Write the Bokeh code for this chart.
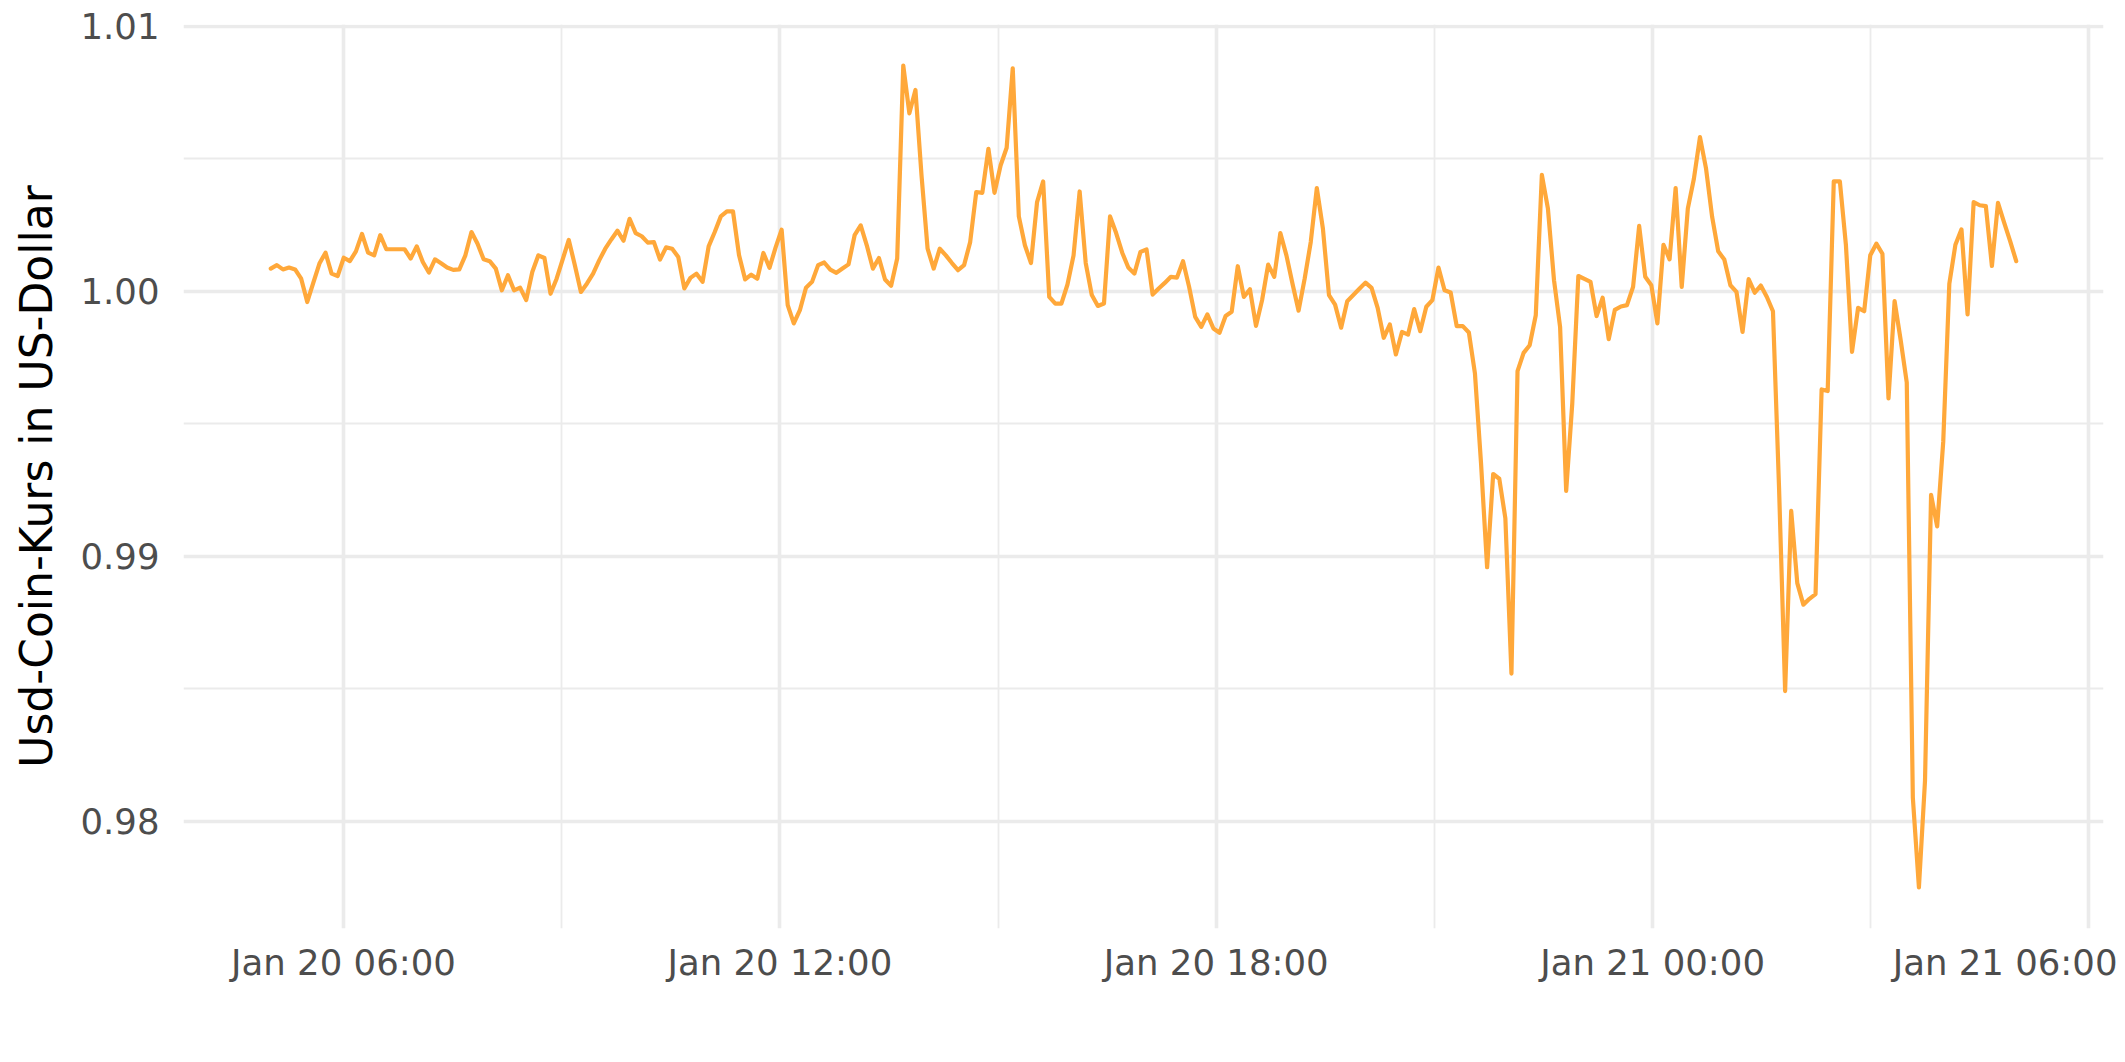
import pandas as pd
from bokeh.plotting import figure
from bokeh.models import (FixedTicker, DatetimeTickFormatter, PrintfTickFormatter,
                          Range1d, ColumnDataSource)
from bokeh.embed import file_html
from bokeh.resources import INLINE

# ---------------- data ----------------
start_time = "2025-01-20 05:00"
end_time = "2025-01-21 05:00"

usdc_price = [
    1.00086, 1.00099, 1.00083, 1.00090, 1.00083, 1.00048, 0.99960, 1.00033, 1.00105, 1.00146,
    1.00067, 1.00058, 1.00127, 1.00114, 1.00151, 1.00217, 1.00146, 1.00136, 1.00212, 1.00159,
    1.00159, 1.00159, 1.00159, 1.00124, 1.00170, 1.00111, 1.00071, 1.00121, 1.00106, 1.00090,
    1.00081, 1.00083, 1.00136, 1.00224, 1.00180, 1.00121, 1.00114, 1.00086, 1.00004, 1.00061,
    1.00004, 1.00014, 0.99967, 1.00073, 1.00136, 1.00126, 0.99991, 1.00048, 1.00121, 1.00194,
    1.00099, 0.99998, 1.00030, 1.00067, 1.00117, 1.00161, 1.00196, 1.00229, 1.00191, 1.00274,
    1.00220, 1.00208, 1.00184, 1.00186, 1.00120, 1.00166, 1.00161, 1.00130, 1.00011, 1.00051,
    1.00067, 1.00036, 1.00170, 1.00224, 1.00283, 1.00302, 1.00302, 1.00136, 1.00045, 1.00063,
    1.00048, 1.00145, 1.00089, 1.00165, 1.00233, 0.99948, 0.99879, 0.99929, 1.00014, 1.00036,
    1.00099, 1.00109, 1.00082, 1.00070, 1.00086, 1.00102, 1.00212, 1.00249, 1.00174, 1.00086,
    1.00126, 1.00045, 1.00021, 1.00124, 1.00852, 1.00672, 1.00760, 1.00438, 1.00161, 1.00086,
    1.00161, 1.00136, 1.00107, 1.00080, 1.00099, 1.00186, 1.00375, 1.00372, 1.00538, 1.00372,
    1.00475, 1.00542, 1.00842, 1.00283, 1.00174, 1.00107, 1.00337, 1.00415, 0.99979, 0.99954,
    0.99954, 1.00026, 1.00136, 1.00377, 1.00107, 0.99986, 0.99945, 0.99954, 1.00283, 1.00220,
    1.00146, 1.00090, 1.00067, 1.00149, 1.00158, 0.99988, 1.00011, 1.00032, 1.00055, 1.00052,
    1.00114, 1.00017, 0.99904, 0.99866, 0.99913, 0.99860, 0.99844, 0.99907, 0.99923, 1.00095,
    0.99979, 1.00008, 0.99870, 0.99967, 1.00101, 1.00055, 1.00220, 1.00136, 1.00029, 0.99927,
    1.00048, 1.00186, 1.00390, 1.00237, 0.99986, 0.99950, 0.99863, 0.99963, 0.99986, 1.00010,
    1.00033, 1.00013, 0.99938, 0.99825, 0.99875, 0.99762, 0.99847, 0.99837, 0.99933, 0.99850,
    0.99942, 0.99967, 1.00090, 1.00004, 0.99996, 0.99869, 0.99869, 0.99845, 0.99690, 0.99351,
    0.98959, 0.99311, 0.99293, 0.99144, 0.98558, 0.99699, 0.99768, 0.99797, 0.99910, 1.00440,
    1.00312, 1.00042, 0.99866, 0.99247, 0.99577, 1.00058, 1.00047, 1.00036, 0.99907, 0.99976,
    0.99820, 0.99930, 0.99943, 0.99948, 1.00017, 1.00247, 1.00055, 1.00023, 0.99879, 1.00176,
    1.00121, 1.00390, 1.00017, 1.00312, 1.00425, 1.00582, 1.00463, 1.00281, 1.00151, 1.00120,
    1.00023, 0.99998, 0.99847, 1.00046, 0.99995, 1.00022, 0.99979, 0.99925, 0.99260, 0.98492,
    0.99172, 0.98899, 0.98818, 0.98840, 0.98858, 0.99630, 0.99624, 1.00415, 1.00415, 1.00174,
    0.99772, 0.99938, 0.99925, 1.00136, 1.00180, 1.00142, 0.99596, 0.99963, 0.99816, 0.99656,
    0.98090, 0.97751, 0.98153, 0.99232, 0.99113, 0.99433, 1.00029, 1.00176, 1.00234, 0.99913,
    1.00337, 1.00325, 1.00322, 1.00096, 1.00334, 1.00260, 1.00190, 1.00114,
]

x_major_ticks = ["2025-01-20 06:00", "2025-01-20 12:00", "2025-01-20 18:00",
                 "2025-01-21 00:00", "2025-01-21 06:00"]
x_minor_ticks = ["2025-01-20 09:00", "2025-01-20 15:00", "2025-01-20 21:00",
                 "2025-01-21 03:00"]
y_major_ticks = [0.98, 0.99, 1.00, 1.01]
y_minor_ticks = [0.985, 0.995, 1.005]

y_title = "Usd-Coin-Kurs in US-Dollar"

# ---------------- build ----------------
times = pd.date_range(start_time, end_time, periods=len(usdc_price))
t_ms = [t.value / 1e6 for t in times]
src = ColumnDataSource(dict(t=t_ms, v=usdc_price))

def ms(s):
    return pd.Timestamp(s).value / 1e6

span_t = t_ms[-1] - t_ms[0]
vmin, vmax = min(usdc_price), max(usdc_price)
span_v = vmax - vmin

p = figure(width=2117, height=1054, x_axis_type="datetime",
           output_backend="svg", toolbar_location=None,
           x_range=Range1d(t_ms[0] - 0.05 * span_t, t_ms[-1] + 0.05 * span_t),
           y_range=Range1d(vmin - 0.05 * span_v, vmax + 0.05 * span_v),
           min_border_left=183, min_border_right=14,
           min_border_top=24, min_border_bottom=126)
p.outline_line_color = None
p.background_fill_color = "white"
p.border_fill_color = "white"

grid_col = "#EBEBEB"
p.xaxis.ticker = FixedTicker(ticks=[ms(s) for s in x_major_ticks],
                             minor_ticks=[ms(s) for s in x_minor_ticks])
p.yaxis.ticker = FixedTicker(ticks=y_major_ticks, minor_ticks=y_minor_ticks)
fmt = "%b %d %H:%M"
p.xaxis.formatter = DatetimeTickFormatter(
    milliseconds=fmt, seconds=fmt, minsec=fmt, minutes=fmt, hourmin=fmt,
    hours=fmt, days=fmt, months=fmt, years=fmt)
p.yaxis.formatter = PrintfTickFormatter(format="%.2f")

for g in (p.xgrid, p.ygrid):
    g.grid_line_color = grid_col
    g.grid_line_width = 3.6
    g.minor_grid_line_color = grid_col
    g.minor_grid_line_width = 1.8

for ax in (p.xaxis, p.yaxis):
    ax.axis_line_color = None
    ax.major_tick_line_color = None
    ax.minor_tick_line_color = None
    ax.major_tick_out = 0
    ax.major_tick_in = 0
    ax.minor_tick_out = 0
    ax.minor_tick_in = 0
    ax.major_label_text_font = "DejaVu Sans"
    ax.major_label_text_font_size = "35.5px"
    ax.major_label_text_color = "#4D4D4D"

p.xaxis.major_label_standoff = 13
p.yaxis.major_label_standoff = 24
p.yaxis.axis_label = y_title
p.yaxis.axis_label_text_font = "DejaVu Sans"
p.yaxis.axis_label_text_font_size = "44px"
p.yaxis.axis_label_text_font_style = "normal"
p.yaxis.axis_label_text_color = "#000000"
p.yaxis.axis_label_standoff = 15

p.line("t", "v", source=src, line_color="#FFA83A", line_width=4.2,
       line_join="round", line_cap="round")

open("out.html", "w").write(file_html(p, INLINE))
